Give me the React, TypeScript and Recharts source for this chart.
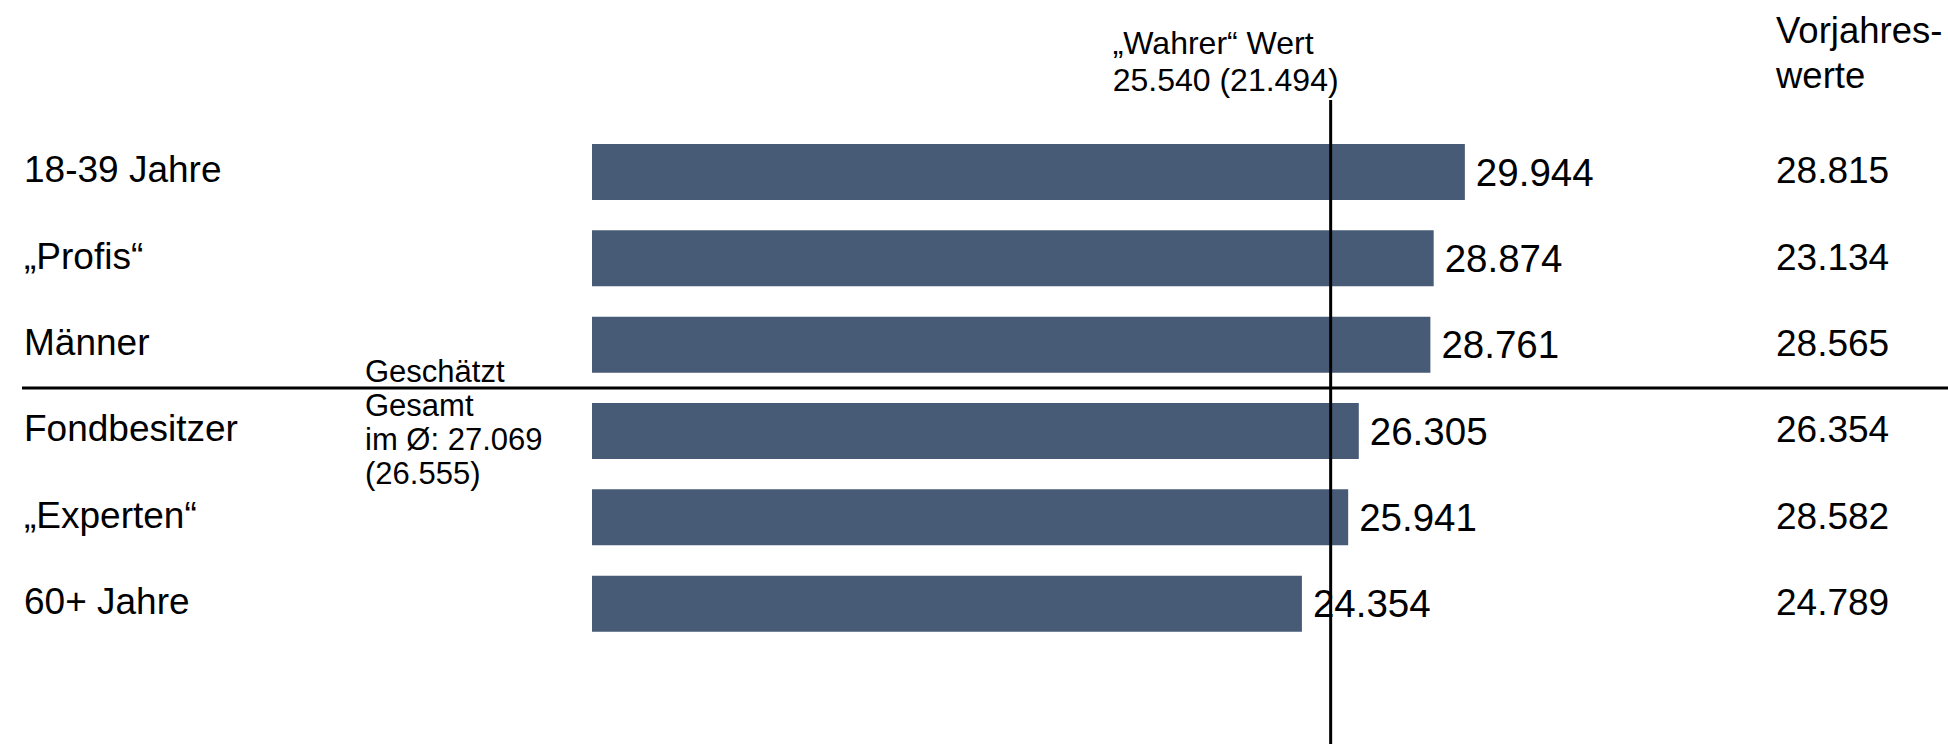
import React from 'react';
import { BarChart, Bar, XAxis, YAxis, ReferenceLine, LabelList, Label } from 'recharts';

const categories = ['18-39 Jahre', '„Profis“', 'Männer', 'Fondbesitzer', '„Experten“', '60+ Jahre'];
const values = [29944, 28874, 28761, 26305, 25941, 24354];
const previousValues = [28815, 23134, 28565, 26354, 28582, 24789];
const trueValue = 25540;
const trueValuePrevYear = 21494;
const trueValueLinePosition = 25340;
const estimatedAverage = 27069;
const estimatedAveragePrevYear = 26555;
const dividerAfterCategory = 'Männer';
const xDomain = [0, 40000];
const headerLines = ['Vorjahres-', 'werte'];

const FONT = '"Liberation Sans", Arial, Helvetica, sans-serif';
const BAR_COLOR = '#475a76';

const fmt = (v: number) => {
  const th = Math.floor(v / 1000);
  const rest = String(v % 1000).padStart(3, '0');
  return th > 0 ? `${th}.${rest}` : String(v);
};

const LeftTick = (p: any) => (
  <text x={24} y={p.y} dy={10} fontSize={37} fontFamily={FONT} fill="#000" textAnchor="start">
    {p.payload.value}
  </text>
);

const RightTick = (p: any) => (
  <text x={p.x} y={p.y} dy={11} fontSize={37} fontFamily={FONT} fill="#000" textAnchor="start">
    {fmt(previousValues[p.index])}
  </text>
);

const HeaderLabel = (p: any) => {
  const vb = p.viewBox || { x: 1758, y: 129 };
  return (
    <text x={vb.x + 18} y={vb.y} fontSize={36.5} fontFamily={FONT} fill="#000" textAnchor="start">
      <tspan x={vb.x + 18} dy={-86}>{headerLines[0]}</tspan>
      <tspan x={vb.x + 18} dy={45}>{headerLines[1]}</tspan>
    </text>
  );
};

const DividerShape = (p: any) => (
  <g>
    <line x1={22} x2={1948} y1={p.y1} y2={p.y1} stroke="#000" strokeWidth={3} />
    <text x={365} y={p.y1} fontSize={31} fontFamily={FONT} fill="#000">
      <tspan x={365} dy={-6}>Geschätzt</tspan>
      <tspan x={365} dy={34}>Gesamt</tspan>
      <tspan x={365} dy={34}>{`im Ø: ${fmt(estimatedAverage)}`}</tspan>
      <tspan x={365} dy={34}>{`(${fmt(estimatedAveragePrevYear)})`}</tspan>
    </text>
  </g>
);

const TrueValueShape = (p: any) => (
  <g>
    <line x1={p.x1} x2={p.x1} y1={100} y2={744} stroke="#000" strokeWidth={3} />
    <text x={p.x1 - 218} y={0} fontSize={32} fontFamily={FONT} fill="#000">
      <tspan x={p.x1 - 218} dy={54}>„Wahrer“ Wert</tspan>
      <tspan x={p.x1 - 218} dy={37}>{`${fmt(trueValue)} (${fmt(trueValuePrevYear)})`}</tspan>
    </text>
  </g>
);

export default function App() {
  const data = categories.map((name, i) => ({ name, value: values[i], previous: previousValues[i] }));
  return (
    <div style={{ position: 'absolute', left: 0, top: 0, width: 1948, height: 744, background: '#fff', fontFamily: FONT }}>
      <BarChart
        width={1948}
        height={744}
        data={data}
        layout="vertical"
        margin={{ top: 129, right: 0, bottom: 97, left: 24 }}
      >
        <XAxis type="number" domain={xDomain} hide />
        <YAxis
          yAxisId="left"
          type="category"
          dataKey="name"
          width={568}
          axisLine={false}
          tickLine={false}
          tick={<LeftTick />}
          interval={0}
        />
        <YAxis
          yAxisId="right"
          orientation="right"
          type="category"
          dataKey="name"
          width={190}
          axisLine={false}
          tickLine={false}
          tickMargin={12}
          tick={<RightTick />}
          interval={0}
        >
          <Label content={<HeaderLabel />} />
        </YAxis>
        <Bar yAxisId="left" dataKey="value" fill={BAR_COLOR} barSize={56} isAnimationActive={false}>
          <LabelList
            dataKey="value"
            position="right"
            offset={11}
            formatter={(v: any) => fmt(Number(v))}
            fontSize={38.5}
            fontFamily={FONT}
            fill="#000"
          />
        </Bar>
        <ReferenceLine
          yAxisId="left"
          y={dividerAfterCategory}
          position="end"
          ifOverflow="visible"
          shape={DividerShape}
        />
        <ReferenceLine
          yAxisId="left"
          x={trueValueLinePosition}
          ifOverflow="visible"
          shape={TrueValueShape}
        />
      </BarChart>
    </div>
  );
}
